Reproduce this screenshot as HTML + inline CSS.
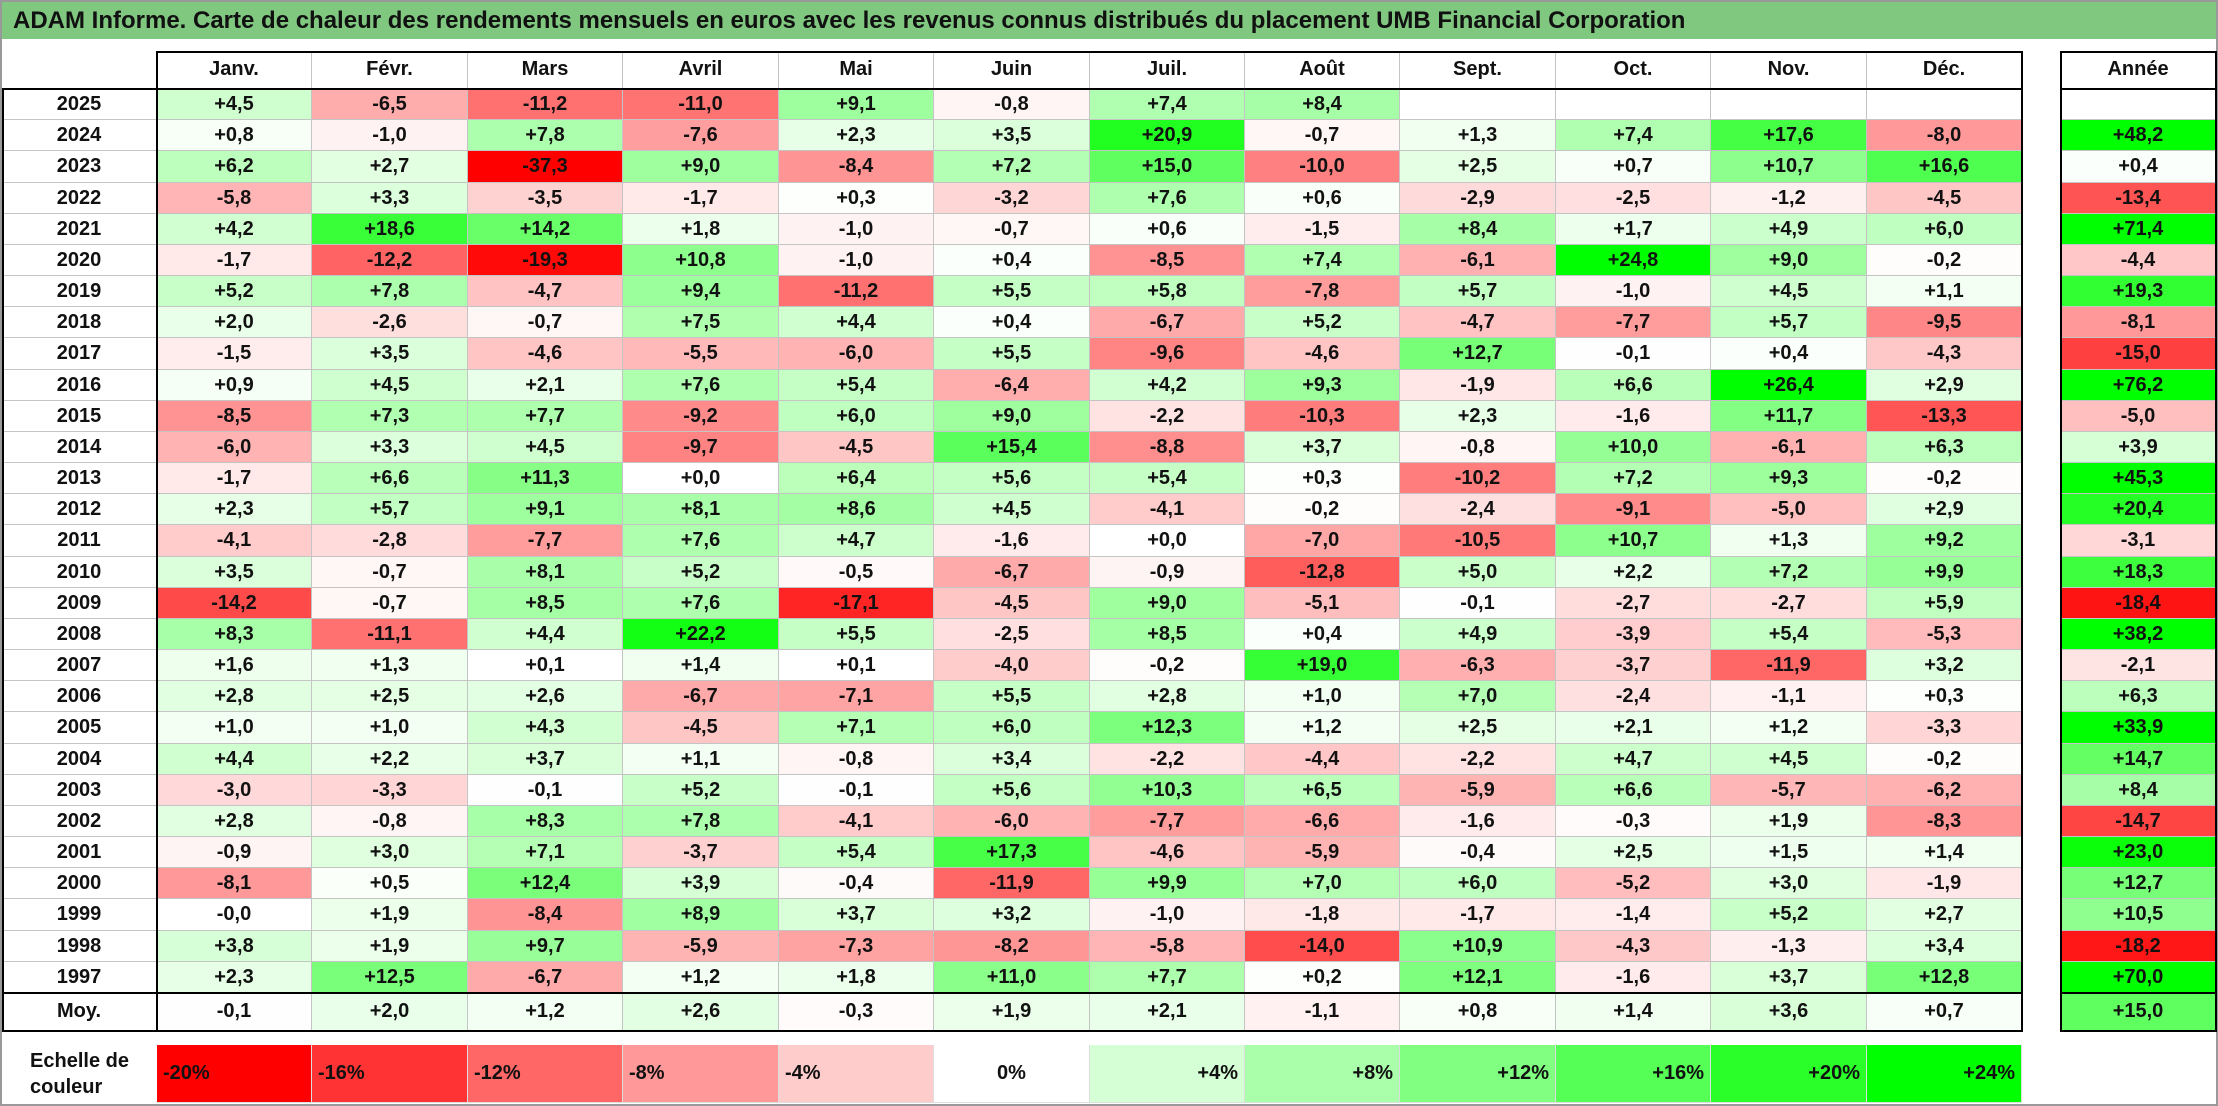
<!DOCTYPE html>
<html><head><meta charset="utf-8">
<style>
html,body{margin:0;padding:0;background:#fff;}
body{width:2218px;height:1106px;position:relative;overflow:hidden;font-family:"Liberation Sans",sans-serif;}
.c{position:absolute;box-sizing:border-box;display:flex;align-items:center;justify-content:center;font-weight:bold;font-size:20px;color:#111;border-right:1px solid #c4c4c4;border-bottom:1px solid #c4c4c4;}
.box{position:absolute;box-sizing:border-box;border:2px solid #000;pointer-events:none;}
.hl{position:absolute;background:#000;pointer-events:none;}
</style></head>
<body>
<div style="position:absolute;left:0;top:0;width:2218px;height:1106px;box-sizing:border-box;border:2px solid #999;"></div>
<div style="position:absolute;left:2px;top:2px;width:2214px;height:37px;background:#80c880;display:flex;align-items:center;padding-left:11px;box-sizing:border-box;font-weight:bold;font-size:24px;color:#111;">ADAM Informe. Carte de chaleur des rendements mensuels en euros avec les revenus connus distribués du placement UMB Financial Corporation</div>
<div id="grid"></div>
<script>
const months = ["Janv.","Févr.","Mars","Avril","Mai","Juin","Juil.","Août","Sept.","Oct.","Nov.","Déc."];
const years = ["2025","2024","2023","2022","2021","2020","2019","2018","2017","2016","2015","2014","2013","2012","2011","2010","2009","2008","2007","2006","2005","2004","2003","2002","2001","2000","1999","1998","1997"];
const values = [
[4.5,-6.5,-11.2,-11.0,9.1,-0.8,7.4,8.4,null,null,null,null],
[0.8,-1.0,7.8,-7.6,2.3,3.5,20.9,-0.7,1.3,7.4,17.6,-8.0],
[6.2,2.7,-37.3,9.0,-8.4,7.2,15.0,-10.0,2.5,0.7,10.7,16.6],
[-5.8,3.3,-3.5,-1.7,0.3,-3.2,7.6,0.6,-2.9,-2.5,-1.2,-4.5],
[4.2,18.6,14.2,1.8,-1.0,-0.7,0.6,-1.5,8.4,1.7,4.9,6.0],
[-1.7,-12.2,-19.3,10.8,-1.0,0.4,-8.5,7.4,-6.1,24.8,9.0,-0.2],
[5.2,7.8,-4.7,9.4,-11.2,5.5,5.8,-7.8,5.7,-1.0,4.5,1.1],
[2.0,-2.6,-0.7,7.5,4.4,0.4,-6.7,5.2,-4.7,-7.7,5.7,-9.5],
[-1.5,3.5,-4.6,-5.5,-6.0,5.5,-9.6,-4.6,12.7,-0.1,0.4,-4.3],
[0.9,4.5,2.1,7.6,5.4,-6.4,4.2,9.3,-1.9,6.6,26.4,2.9],
[-8.5,7.3,7.7,-9.2,6.0,9.0,-2.2,-10.3,2.3,-1.6,11.7,-13.3],
[-6.0,3.3,4.5,-9.7,-4.5,15.4,-8.8,3.7,-0.8,10.0,-6.1,6.3],
[-1.7,6.6,11.3,0.0,6.4,5.6,5.4,0.3,-10.2,7.2,9.3,-0.2],
[2.3,5.7,9.1,8.1,8.6,4.5,-4.1,-0.2,-2.4,-9.1,-5.0,2.9],
[-4.1,-2.8,-7.7,7.6,4.7,-1.6,0.0,-7.0,-10.5,10.7,1.3,9.2],
[3.5,-0.7,8.1,5.2,-0.5,-6.7,-0.9,-12.8,5.0,2.2,7.2,9.9],
[-14.2,-0.7,8.5,7.6,-17.1,-4.5,9.0,-5.1,-0.1,-2.7,-2.7,5.9],
[8.3,-11.1,4.4,22.2,5.5,-2.5,8.5,0.4,4.9,-3.9,5.4,-5.3],
[1.6,1.3,0.1,1.4,0.1,-4.0,-0.2,19.0,-6.3,-3.7,-11.9,3.2],
[2.8,2.5,2.6,-6.7,-7.1,5.5,2.8,1.0,7.0,-2.4,-1.1,0.3],
[1.0,1.0,4.3,-4.5,7.1,6.0,12.3,1.2,2.5,2.1,1.2,-3.3],
[4.4,2.2,3.7,1.1,-0.8,3.4,-2.2,-4.4,-2.2,4.7,4.5,-0.2],
[-3.0,-3.3,-0.1,5.2,-0.1,5.6,10.3,6.5,-5.9,6.6,-5.7,-6.2],
[2.8,-0.8,8.3,7.8,-4.1,-6.0,-7.7,-6.6,-1.6,-0.3,1.9,-8.3],
[-0.9,3.0,7.1,-3.7,5.4,17.3,-4.6,-5.9,-0.4,2.5,1.5,1.4],
[-8.1,0.5,12.4,3.9,-0.4,-11.9,9.9,7.0,6.0,-5.2,3.0,-1.9],
[-0,1.9,-8.4,8.9,3.7,3.2,-1.0,-1.8,-1.7,-1.4,5.2,2.7],
[3.8,1.9,9.7,-5.9,-7.3,-8.2,-5.8,-14.0,10.9,-4.3,-1.3,3.4],
[2.3,12.5,-6.7,1.2,1.8,11.0,7.7,0.2,12.1,-1.6,3.7,12.8]
];
const yearTotals = [null,48.2,0.4,-13.4,71.4,-4.4,19.3,-8.1,-15.0,76.2,-5.0,3.9,45.3,20.4,-3.1,18.3,-18.4,38.2,-2.1,6.3,33.9,14.7,8.4,-14.7,23.0,12.7,10.5,-18.2,70.0];
const averages = [-0.1,2.0,1.2,2.6,-0.3,1.9,2.1,-1.1,0.8,1.4,3.6,0.7];
const averageTotal = 15.0;
const scaleValues = [-20,-16,-12,-8,-4,0,4,8,12,16,20,24];
const scaleLabels = ["-20%","-16%","-12%","-8%","-4%","0%","+4%","+8%","+12%","+16%","+20%","+24%"];

const X0=157, CW=(2022-157)/12, Y0=89, RH=(993-89)/29, HY=51, AX=2061, AW=155;
const root=document.getElementById('grid');
function color(v){
  if(v===null) return '#fff';
  let r,g,b;
  if(v<0){const t=Math.min(1,-v/20);r=255;g=b=Math.round(255*(1-t));}
  else{const t=Math.min(1,v/24);g=255;r=b=Math.round(255*(1-t));}
  return 'rgb('+r+','+g+','+b+')';
}
function fmt(v){
  if(v===null) return '';
  const s=Math.abs(v).toFixed(1).replace('.',',');
  return ((v<0||Object.is(v,-0))?'-':'+')+s;
}
function cell(x,y,w,h,txt,bg,name,extra){
  const d=document.createElement('div');
  d.className='c';
  d.style.left=x+'px';d.style.top=y+'px';d.style.width=w+'px';d.style.height=h+'px';
  d.style.background=bg||'#fff';
  if(extra) Object.assign(d.style,extra);
  d.textContent=txt;
  
  
  root.appendChild(d);return d;
}
function rx(i){return Math.round(X0+i*CW);}
function ry(i){return Math.round(Y0+i*RH);}
months.forEach((m,i)=>cell(rx(i),HY,rx(i+1)-rx(i),Y0-HY,m,'#fff','month-header'));
cell(AX,HY,AW,Y0-HY,'Année','#fff','year-total-header');
years.forEach((y,r)=>{
  const top=ry(r),h=ry(r+1)-top;
  cell(2,top,X0-2,h,y,'#fff','year-label');
  values[r].forEach((v,i)=>cell(rx(i),top,rx(i+1)-rx(i),h,fmt(v),color(v),'heatmap-cell'));
  cell(AX,top,AW,h,fmt(yearTotals[r]),color(yearTotals[r]),'year-total-cell');
});
cell(2,993,X0-2,38,'Moy.','#fff','average-label');
averages.forEach((v,i)=>cell(rx(i),993,rx(i+1)-rx(i),38,fmt(v),color(v),'average-cell'));
cell(AX,993,AW,38,fmt(averageTotal),color(averageTotal),'average-total-cell');
const lg=cell(2,1045,X0-2,58,'','#fff','color-scale-label',{borderRight:'none',borderBottom:'none',flexDirection:'column',lineHeight:'26px',fontSize:'20px'});
lg.innerHTML='Echelle de<br>couleur';
scaleValues.forEach((v,i)=>{
  const jc=v<0?'flex-start':(v===0?'center':'flex-end');
  cell(rx(i),1045,rx(i+1)-rx(i),58,scaleLabels[i],color(v),'color-scale-swatch',{justifyContent:jc,padding:'0 6px',fontSize:'20px',borderColor:'#ddd'});
});
function box(x,y,w,h,n){const b=document.createElement('div');b.className='box';b.style.left=x+'px';b.style.top=y+'px';b.style.width=w+'px';b.style.height=h+'px';root.appendChild(b);}
function hl(x,y,w,h,n){const b=document.createElement('div');b.className='hl';b.style.left=x+'px';b.style.top=y+'px';b.style.width=w+'px';b.style.height=h+'px';root.appendChild(b);}
box(X0-1,HY,2022-X0+2,Y0-HY+1,'header-border');
box(2,Y0-1,2022-2+1,1031-Y0+2,'body-border');
hl(X0-1,Y0,2,1031-Y0,'label-divider');
hl(2,992,2020,2,'average-divider');
box(AX-1,HY,AW+2,1031-HY+1,'year-total-border');
hl(AX,Y0-1,AW,2,'year-header-divider');
hl(AX,992,AW,2,'year-average-divider');
</script>
</body></html>
